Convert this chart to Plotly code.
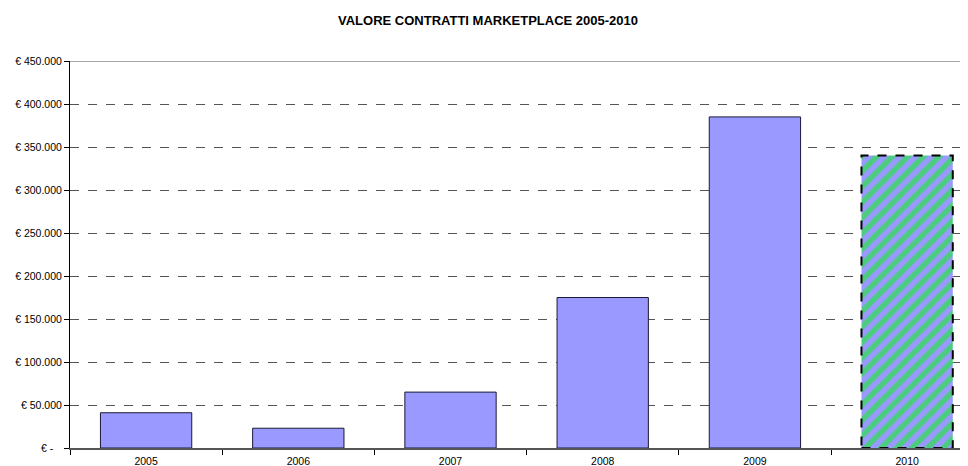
import plotly.graph_objects as go

years = ["2005", "2006", "2007", "2008", "2009", "2010"]
values = [41000, 23000, 65000, 175000, 385000, 340000]
ytick_vals = [0, 50000, 100000, 150000, 200000, 250000, 300000, 350000, 400000, 450000]
ytick_text = ["€ -\u00a0\u00a0\u00a0", "€ 50.000", "€ 100.000", "€ 150.000", "€ 200.000",
              "€ 250.000", "€ 300.000", "€ 350.000", "€ 400.000", "€ 450.000"]

BAR = "#9999FF"
GREEN = "#00FF00"
bw = 0.6

fig = go.Figure()
fig.add_trace(go.Bar(
    x=years[:-1], y=values[:-1], width=bw,
    marker=dict(color=BAR, line=dict(color="#1a1a33", width=1)),
))
fig.add_trace(go.Bar(
    x=years[-1:], y=values[-1:], width=bw,
    marker=dict(color=BAR, line=dict(width=0),
                pattern=dict(shape="/", fgcolor=GREEN, bgcolor=BAR, size=11, solidity=0.5, fillmode="overlay")),
))
# dashed outline for the forecast bar
i = len(years) - 1
fig.add_shape(type="rect", xref="x", yref="y", x0=i - bw / 2, x1=i + bw / 2, y0=0, y1=values[-1],
              line=dict(color="black", width=2, dash="dash"), fillcolor="rgba(0,0,0,0)", layer="above")
# top border line
fig.add_shape(type="line", xref="paper", yref="y", x0=0, x1=1, y0=ytick_vals[-1], y1=ytick_vals[-1],
              line=dict(color="#555555", width=1))

# page body has an 8px margin, so the figure is offset by (8, 8)
fig.update_layout(
    width=960, height=458,
    margin=dict(l=62, r=0, t=53, b=18),
    paper_bgcolor="white", plot_bgcolor="white",
    showlegend=False,
    font=dict(family="Liberation Sans, Arial", size=10.5, color="black"),
    title=dict(text="<b>VALORE CONTRATTI MARKETPLACE 2005-2010</b>", x=0.5, xanchor="center",
               y=0.972, yanchor="middle", font=dict(size=13, color="black")),
    bargap=0.4,
)
fig.update_xaxes(
    type="category", range=[-0.5, 5.4], tickson="boundaries",
    ticks="outside", ticklen=5, tickcolor="black",
    showline=True, linecolor="#555555", linewidth=2, showgrid=False,
    tickfont=dict(size=10.5, color="black"), ticklabelstandoff=2, automargin=False,
)
fig.update_yaxes(
    range=[0, 450000], tickvals=ytick_vals, ticktext=ytick_text,
    ticks="outside", ticklen=5, tickcolor="black",
    showline=True, linecolor="black", linewidth=1,
    showgrid=True, gridcolor="#555555", griddash="dash", gridwidth=1,
    zeroline=False, tickfont=dict(size=10.5, color="black"), automargin=False,
)

fig.write_html("out.html")
